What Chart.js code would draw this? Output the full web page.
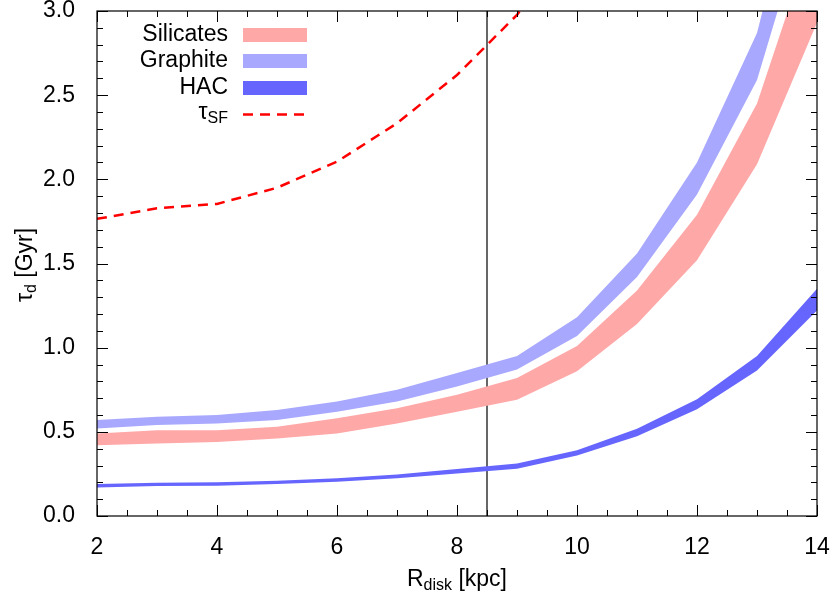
<!DOCTYPE html>
<html>
<head>
<meta charset="utf-8">
<script src="https://cdn.jsdelivr.net/npm/chart.js@4/dist/chart.umd.min.js"></script>
<style>
  html, body { margin: 0; padding: 0; background: #fff; }
  #wrap { width: 833px; height: 605px; }
</style>
</head>
<body>
<div id="wrap"><canvas id="chart" width="833" height="605"></canvas></div>
<script>
// ---------------------------------------------------------------------------
// Data (dust lifetime vs galactocentric radius)
// ---------------------------------------------------------------------------
const radius   = [2, 3, 4, 5, 6, 7, 8, 9, 10, 11, 12, 13, 14];
const silLow   = [0.42, 0.43, 0.44, 0.46, 0.49, 0.55, 0.62, 0.69, 0.86, 1.14, 1.52, 2.09, 2.93];
const silHigh  = [0.49, 0.51, 0.51, 0.53, 0.58, 0.64, 0.72, 0.82, 1.01, 1.34, 1.79, 2.45, 3.52];
const graLow   = [0.52, 0.54, 0.55, 0.57, 0.62, 0.68, 0.77, 0.87, 1.07, 1.42, 1.91, 2.59, 3.78];
const graHigh  = [0.57, 0.59, 0.60, 0.63, 0.68, 0.75, 0.85, 0.95, 1.18, 1.56, 2.10, 2.87, 4.27];
const hacLow   = [0.17, 0.178, 0.18, 0.19, 0.203, 0.225, 0.253, 0.281, 0.36, 0.474, 0.634, 0.865, 1.221];
const hacHigh  = [0.19, 0.197, 0.20, 0.209, 0.225, 0.247, 0.279, 0.312, 0.391, 0.518, 0.694, 0.95, 1.35];
const tauRadius = [2, 3, 4, 5, 6, 7, 8, 9, 10];
const tauSF     = [1.765, 1.828, 1.854, 1.95, 2.105, 2.333, 2.62, 2.977, 3.46];
const solarRadius = 8.5;
const xTickLabels = [2, 4, 6, 8, 10, 12, 14];
const yTickLabels = [0.0, 0.5, 1.0, 1.5, 2.0, 2.5, 3.0];

const COL_SIL = 'rgb(255,168,168)';
const COL_GRA = 'rgb(168,168,255)';
const COL_HAC = 'rgb(102,102,255)';
const FONT = 'Liberation Sans, Arial, sans-serif';
const FS = 23, FS_SUB = 16;

const pts = (xs, ys) => xs.map((x, i) => ({ x, y: ys[i] }));

function edge(label, xs, ys) {
  return { label, data: pts(xs, ys), borderWidth: 0, pointRadius: 0, fill: false };
}
function band(label, xs, ys, color) {
  return {
    label, data: pts(xs, ys), borderWidth: 0, borderColor: color,
    pointRadius: 0, fill: '-1', backgroundColor: color,
  };
}

// ---------------------------------------------------------------------------
// gnuplot-like frame: inward ticks on all four sides, legend, axis titles
// ---------------------------------------------------------------------------
function drawSubText(ctx, parts, x, y, align) {
  const widths = parts.map(p => {
    ctx.font = (p.sub ? FS_SUB : FS) + 'px ' + FONT;
    return ctx.measureText(p.t).width;
  });
  const total = widths.reduce((a, b) => a + b, 0);
  let cx = align === 'right' ? x - total : align === 'center' ? x - total / 2 : x;
  ctx.textAlign = 'left';
  ctx.textBaseline = 'middle';
  parts.forEach((p, i) => {
    ctx.font = (p.sub ? FS_SUB : FS) + 'px ' + FONT;
    ctx.fillText(p.t, cx, p.sub ? y + 6 : y);
    cx += widths[i];
  });
}

const framePlugin = {
  id: 'frame',
  afterDatasetsDraw(chart) {
    const { ctx, chartArea: a, scales: { x, y } } = chart;
    ctx.save();
    ctx.strokeStyle = '#000';
    ctx.lineWidth = 1.2;
    ctx.strokeRect(a.left, a.top, a.right - a.left, a.bottom - a.top);

    ctx.lineWidth = 1;
    ctx.beginPath();
    for (let v = 2; v <= 14.001; v += 0.5) {
      const px = Math.round(x.getPixelForValue(v)) + 0.5;
      const len = Math.abs(v % 2) < 1e-6 ? 11 : 6;
      ctx.moveTo(px, a.bottom); ctx.lineTo(px, a.bottom - len);
      ctx.moveTo(px, a.top); ctx.lineTo(px, a.top + len);
    }
    for (let i = 0; i <= 30; i++) {
      const py = Math.round(y.getPixelForValue(i / 10)) + 0.5;
      const len = i % 5 === 0 ? 11 : 6;
      ctx.moveTo(a.left, py); ctx.lineTo(a.left + len, py);
      ctx.moveTo(a.right, py); ctx.lineTo(a.right - len, py);
    }
    ctx.stroke();

    // legend
    const textX = 228, swL = 243, swR = 307;
    const rows = [
      { parts: [{ t: 'Silicates' }], y: 35, color: COL_SIL },
      { parts: [{ t: 'Graphite' }], y: 61, color: COL_GRA },
      { parts: [{ t: 'HAC' }], y: 88, color: COL_HAC },
    ];
    rows.forEach(r => {
      ctx.fillStyle = '#000';
      drawSubText(ctx, r.parts, textX, r.y, 'right');
      ctx.fillStyle = r.color;
      ctx.fillRect(swL, r.y - 7, swR - swL, 14);
    });
    ctx.fillStyle = '#000';
    drawSubText(ctx, [{ t: 'τ' }, { t: 'SF', sub: true }], textX, 113, 'right');
    ctx.strokeStyle = '#ff0000';
    ctx.lineWidth = 2.5;
    ctx.setLineDash([10, 7]);
    ctx.beginPath();
    ctx.moveTo(swL, 114.5); ctx.lineTo(swR, 114.5);
    ctx.stroke();
    ctx.setLineDash([]);

    // axis titles
    ctx.fillStyle = '#000';
    drawSubText(ctx, [{ t: 'R' }, { t: 'disk', sub: true }, { t: ' [kpc]' }], 457, 580, 'center');
    ctx.translate(26, 265);
    ctx.rotate(-Math.PI / 2);
    drawSubText(ctx, [{ t: 'τ' }, { t: 'd', sub: true }, { t: ' [Gyr]' }], 0, 0, 'center');
    ctx.restore();
  },
};

new Chart(document.getElementById('chart'), {
  type: 'line',
  data: {
    datasets: [
      edge('silLow', radius, silLow),
      band('Silicates', radius, silHigh, COL_SIL),
      edge('graLow', radius, graLow),
      band('Graphite', radius, graHigh, COL_GRA),
      edge('hacLow', radius, hacLow),
      band('HAC', radius, hacHigh, COL_HAC),
      {
        label: 'τSF', data: pts(tauRadius, tauSF), borderColor: '#ff0000',
        borderWidth: 2.5, borderDash: [10, 7], pointRadius: 0, fill: false, tension: 0,
      },
      {
        label: 'Rsun', data: [{ x: solarRadius, y: 0 }, { x: solarRadius, y: 3 }],
        borderColor: '#000', borderWidth: 1.2, pointRadius: 0, fill: false,
      },
    ],
  },
  options: {
    responsive: false,
    animation: false,
    layout: { padding: { top: 11, right: 16, left: 0, bottom: 0 } },
    plugins: { legend: { display: false }, tooltip: { enabled: false } },
    scales: {
      x: {
        type: 'linear', min: 2, max: 14,
        afterBuildTicks: s => { s.ticks = xTickLabels.map(v => ({ value: v })); },
        ticks: { color: '#000', font: { size: FS, family: FONT }, padding: 10, maxRotation: 0 },
        grid: { display: false },
        border: { display: false },
        afterFit: s => { s.height = 89; s.paddingLeft = 0; s.paddingRight = 0; },
      },
      y: {
        min: 0, max: 3,
        afterBuildTicks: s => { s.ticks = yTickLabels.map(v => ({ value: v })); },
        ticks: { color: '#000', font: { size: FS, family: FONT }, padding: 14,
                 callback: v => Number(v).toFixed(1) },
        grid: { display: false },
        border: { display: false },
        afterFit: s => { s.width = 97; s.paddingTop = 0; s.paddingBottom = 0; },
      },
    },
  },
  plugins: [framePlugin],
});
</script>
</body>
</html>
